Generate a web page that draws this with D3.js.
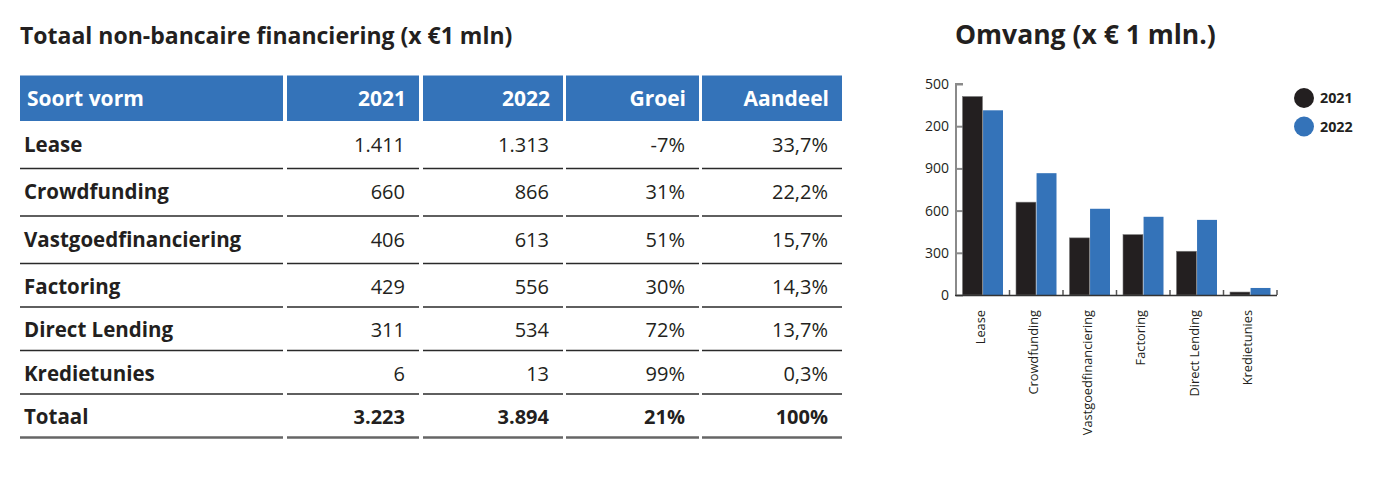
<!DOCTYPE html>
<html>
<head>
<meta charset="utf-8">
<script src="https://cdn.jsdelivr.net/npm/d3@7"></script>
<style>
  body { margin: 0; background: #fff; }
  svg { font-family: "Open Sans", "Noto Sans", sans-serif; }
</style>
</head>
<body>
<svg id="chart" width="1374" height="484"></svg>
<script>
// data
const headers = ["Soort vorm", "2021", "2022", "Groei", "Aandeel"];
const categories = ["Lease", "Crowdfunding", "Vastgoedfinanciering", "Factoring", "Direct Lending", "Kredietunies"];
const values2021 = [1411, 660, 406, 429, 311, 6];
const values2022 = [1313, 866, 613, 556, 534, 13];
const groei = [-7, 31, 51, 30, 72, 99];
const aandeel = [33.7, 22.2, 15.7, 14.3, 13.7, 0.3];
const totalRow = ["Totaal", 3223, 3894, 21, 100];
// bar heights as drawn in the picture (Kredietunies bars are shown taller than 6 / 13)
const bars2021 = [1411, 660, 406, 429, 311, 21];
const bars2022 = [1313, 866, 613, 556, 534, 50];
const years = ["2021", "2022"];
const yTicks = [0, 300, 600, 900, 1200, 1500];

const blue = "#3473b9";
const dark = "#231f20";

const nl = d3.formatLocale({ decimal: ",", thousands: ".", grouping: [3], currency: ["€", ""] });
const fmtInt = nl.format(",d");
const fmtPct1 = v => nl.format(",.1f")(v) + "%";

const svg = d3.select("#chart");

// ---------- tabel ----------
svg.append("text")
  .attr("x", 20).attr("y", 44)
  .attr("font-size", 23).attr("font-weight", 700).attr("fill", "#231f20")
  .text("Totaal non-bancaire financiering (x €1 mln)");

// kolommen en rijen (layout)
const cols = [[20, 283], [287, 419], [423, 563], [566, 699], [702, 842]];
const headTop = 75.5, headBottom = 121;
const rowHeights = [47.5, 47.5, 47.5, 43.5, 43.5, 43.5, 43.5];

const rows = categories.map((c, i) => [c, fmtInt(values2021[i]), fmtInt(values2022[i]), groei[i] + "%", fmtPct1(aandeel[i])]);
rows.push([totalRow[0], fmtInt(totalRow[1]), fmtInt(totalRow[2]), totalRow[3] + "%", totalRow[4] + "%"]);

const table = svg.append("g");

table.selectAll("rect.head")
  .data(cols)
  .join("rect")
  .attr("class", "head")
  .attr("x", d => d[0]).attr("y", headTop)
  .attr("width", d => d[1] - d[0]).attr("height", headBottom - headTop)
  .attr("fill", blue);

table.selectAll("text.head")
  .data(headers)
  .join("text")
  .attr("class", "head")
  .attr("x", (d, i) => i === 0 ? cols[0][0] + 7 : cols[i][1] - 13)
  .attr("y", 105.5)
  .attr("text-anchor", (d, i) => i === 0 ? "start" : "end")
  .attr("font-size", 21).attr("font-weight", 700).attr("fill", "#fff")
  .text(d => d);

let yPos = headBottom;
rows.forEach((row, r) => {
  const bottom = yPos + rowHeights[r];
  const isTotal = r === rows.length - 1;
  const g = table.append("g");
  g.selectAll("text")
    .data(row)
    .join("text")
    .attr("x", (d, i) => i === 0 ? cols[0][0] + 4 : cols[i][1] - 14)
    .attr("y", bottom - (r < 3 ? 17 : 13.5))
    .attr("text-anchor", (d, i) => i === 0 ? "start" : "end")
    .attr("font-size", (d, i) => i === 0 ? 20.5 : 20)
    .attr("font-weight", (d, i) => (i === 0 || isTotal) ? 700 : 400)
    .attr("fill", "#231f20")
    .text(d => d);
  g.selectAll("line")
    .data(cols)
    .join("line")
    .attr("x1", d => d[0]).attr("x2", d => d[1])
    .attr("y1", bottom).attr("y2", bottom)
    .attr("stroke", isTotal ? "#666" : "#2a2a2a")
    .attr("stroke-width", isTotal ? 2.5 : 1.6);
  yPos = bottom;
});

// ---------- grafiek ----------
svg.append("text")
  .attr("x", 955).attr("y", 44)
  .attr("font-size", 26.5).attr("font-weight", 700).attr("fill", "#231f20")
  .text("Omvang (x € 1 mln.)");

const plot = { left: 956, right: 1277, top: 84, bottom: 295 };

const x0 = d3.scaleBand()
  .domain(categories)
  .range([plot.left, plot.right])
  .paddingInner(0.22)
  .paddingOuter(0.11);

const x1 = d3.scaleBand()
  .domain(years)
  .range([0, x0.bandwidth()])
  .padding(0.03);

const y = d3.scaleLinear()
  .domain([0, 1500])
  .range([plot.bottom, plot.top]);

const chart = svg.append("g");

// y-as (labels links afgesneden zoals in het origineel)
svg.append("clipPath").attr("id", "yclip")
  .append("rect").attr("x", 925 - plot.left).attr("y", 60).attr("width", 60).attr("height", 260);

const yAxis = chart.append("g")
  .attr("transform", `translate(${plot.left},0)`)
  .attr("clip-path", "url(#yclip)")
  .call(d3.axisLeft(y).tickValues(yTicks).tickFormat(fmtInt).tickSize(-7).tickPadding(7))
  .call(g => g.select(".domain").attr("stroke", "#8a8a8a").attr("stroke-width", 2)
    .attr("d", `M7,${plot.top}H0V${plot.bottom}`));
yAxis.selectAll(".tick line").attr("stroke", "#8a8a8a").attr("stroke-width", 2);
yAxis.selectAll(".tick text")
  .attr("font-size", 14).attr("fill", "#231f20")
  .attr("font-family", "'Open Sans', sans-serif");

// balken
const series = [bars2021, bars2022];
const colors = [dark, blue];
const groups = chart.selectAll("g.grp")
  .data(categories)
  .join("g")
  .attr("class", "grp")
  .attr("transform", d => `translate(${x0(d)},0)`);

groups.selectAll("rect")
  .data((c, i) => years.map((yr, s) => ({ yr, v: series[s][i], s })))
  .join("rect")
  .attr("x", d => x1(d.yr))
  .attr("width", x1.bandwidth())
  .attr("y", d => y(d.v))
  .attr("height", d => y(0) - y(d.v))
  .attr("fill", d => colors[d.s])
  .attr("stroke", d => d.s === 0 ? "#777" : "none")
  .attr("stroke-width", 0.6);

// x-as
chart.append("line")
  .attr("x1", plot.left - 1).attr("x2", plot.right)
  .attr("y1", plot.bottom + 0.5).attr("y2", plot.bottom + 0.5)
  .attr("stroke", "#333").attr("stroke-width", 1.6);

chart.selectAll("line.xt")
  .data(d3.range(1, categories.length + 1))
  .join("line")
  .attr("class", "xt")
  .attr("x1", i => plot.left + i * x0.step()).attr("x2", i => plot.left + i * x0.step())
  .attr("y1", plot.bottom).attr("y2", plot.bottom - 5)
  .attr("stroke", "#555").attr("stroke-width", 1.5);

chart.selectAll("text.xl")
  .data(categories)
  .join("text")
  .attr("class", "xl")
  .attr("transform", d => `translate(${x0(d) + x0.bandwidth() / 2 - 0.5},${plot.bottom + 15}) rotate(-90)`)
  .attr("text-anchor", "end")
  .attr("dy", "0.2em")
  .attr("font-size", 12.8).attr("fill", "#231f20")
  .text(d => d);

// legenda
const legend = svg.append("g").selectAll("g")
  .data(years)
  .join("g")
  .attr("transform", (d, i) => `translate(1304,${98 + i * 28.5})`);
legend.append("circle").attr("r", 10).attr("fill", (d, i) => colors[i]);
legend.append("text")
  .attr("x", 16).attr("dy", "0.35em")
  .attr("font-size", 14.3).attr("font-weight", 700).attr("fill", "#231f20")
  .text(d => d);
</script>
</body>
</html>
